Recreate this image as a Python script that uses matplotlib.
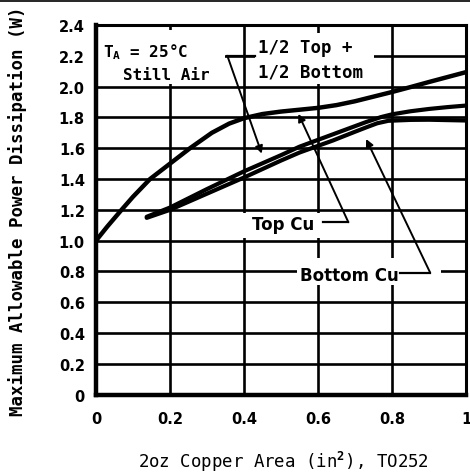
import matplotlib
matplotlib.use("Agg")
import matplotlib.pyplot as plt
from matplotlib.lines import Line2D
from matplotlib.patches import Rectangle

# --- curve data (x = copper area in^2, y = power in W) ---
half_x = [0, 0.03, 0.069, 0.1, 0.146, 0.2, 0.254, 0.313, 0.36, 0.4, 0.45,
          0.5, 0.55, 0.6, 0.65, 0.7, 0.75, 0.8, 0.85, 0.9, 0.95, 1.0]
half_y = [1.0, 1.09, 1.2, 1.285, 1.4, 1.5, 1.6, 1.7, 1.76, 1.795, 1.822,
          1.838, 1.85, 1.862, 1.88, 1.905, 1.935, 1.965, 1.997, 2.03,
          2.062, 2.094]

top_x = [0.137, 0.2, 0.3, 0.4, 0.5, 0.55, 0.64, 0.73, 0.77, 0.8, 0.85, 0.9,
         0.95, 1.0]
top_y = [1.155, 1.215, 1.335, 1.45, 1.555, 1.61, 1.69, 1.77, 1.802, 1.82,
         1.84, 1.855, 1.867, 1.877]

bot_x = [0.137, 0.2, 0.3, 0.4, 0.5, 0.55, 0.64, 0.7, 0.73, 0.76, 0.79, 0.85,
         0.9, 1.0]
bot_y = [1.148, 1.2, 1.305, 1.41, 1.52, 1.572, 1.65, 1.707, 1.735, 1.762,
         1.778, 1.784, 1.785, 1.78]

xticks = [0, 0.2, 0.4, 0.6, 0.8, 1.0]
xtick_labels = ["0", "0.2", "0.4", "0.6", "0.8", "1"]
yticks = [0, 0.2, 0.4, 0.6, 0.8, 1.0, 1.2, 1.4, 1.6, 1.8, 2.0, 2.2, 2.4]
ytick_labels = ["0", "0.2", "0.4", "0.6", "0.8", "1.0", "1.2", "1.4",
                "1.6", "1.8", "2.0", "2.2", "2.4"]

plt.rcParams["mathtext.fontset"] = "custom"
plt.rcParams["mathtext.rm"] = "DejaVu Sans Mono:bold"

fig = plt.figure(figsize=(4.7, 4.77), dpi=100)
ax = fig.add_axes([96 / 470, 1 - 395.7 / 477, 370 / 470, 369.7 / 477])

ax.set_xlim(0, 1.0)
ax.set_ylim(0, 2.4)
ax.set_xticks(xticks)
ax.set_xticklabels(xtick_labels)
ax.set_yticks(yticks)
ax.set_yticklabels(ytick_labels)
ax.tick_params(length=0, labelsize=10.5)
ax.tick_params(axis="y", pad=8)
ax.tick_params(axis="x", pad=12)
for lab in ax.get_xticklabels() + ax.get_yticklabels():
    lab.set_fontweight("bold")

ax.grid(True, color="black", linewidth=1.9, zorder=1)
ax.set_axisbelow(True)
for side in ["left", "bottom"]:
    ax.spines[side].set_linewidth(3.2)
for side in ["top", "right"]:
    ax.spines[side].set_linewidth(2.2)

# white masks behind the labels (hide grid there)
masks = [(0.005, 2.02, 0.344, 0.35), (0.43, 2.02, 0.32, 0.33),
         (0.389, 1.02, 0.305, 0.16), (0.543, 0.71, 0.39, 0.18)]
for mx, my, mw, mh in masks:
    ax.add_patch(Rectangle((mx, my), mw, mh, facecolor="white",
                           edgecolor="none", zorder=2))

ax.plot(half_x, half_y, color="black", lw=3.2, zorder=4,
        solid_capstyle="round", solid_joinstyle="round")
ax.plot(top_x, top_y, color="black", lw=3.0, zorder=4,
        solid_capstyle="round", solid_joinstyle="round")
ax.plot(bot_x, bot_y, color="black", lw=3.0, zorder=4,
        solid_capstyle="round", solid_joinstyle="round")

mono = "DejaVu Sans Mono"
ax.text(0.019, 2.2, r"$\mathrm{T_A}$ = 25°C", family=mono, weight="bold",
        fontsize=11.5, va="baseline", zorder=5)
ax.text(0.073, 2.05, "Still Air", family=mono, weight="bold",
        fontsize=11.5, va="baseline", zorder=5)
ax.text(0.438, 2.225, "1/2 Top +", family=mono, weight="bold",
        fontsize=12.5, va="baseline", zorder=5)
ax.text(0.438, 2.063, "1/2 Bottom", family=mono, weight="bold",
        fontsize=12.5, va="baseline", zorder=5)
ax.text(0.421, 1.076, "Top Cu", weight="bold", fontsize=12,
        va="baseline", zorder=5)
ax.text(0.551, 0.747, "Bottom Cu", weight="bold", fontsize=12,
        va="baseline", zorder=5)

# leader lines with arrows
leaders = [((0.43, 2.2), (0.355, 2.2), (0.448, 1.565)),
           ((0.614, 1.12), (0.682, 1.12), (0.547, 1.823)),
           ((0.822, 0.793), (0.903, 0.793), (0.73, 1.66))]
for start, corner, tip in leaders:
    ax.plot([start[0], corner[0]], [start[1], corner[1]], color="black",
            lw=1.6, zorder=5)
    ax.annotate("", xy=tip, xytext=corner,
                arrowprops=dict(arrowstyle="-|>", color="black", lw=1.4,
                                mutation_scale=11, shrinkA=0, shrinkB=0),
                zorder=5)

fig.text(18 / 470, 1 - 211 / 477, "Maximum Allowable Power Dissipation (W)",
         family=mono, weight="bold", fontsize=12.5, rotation=90,
         ha="center", va="center")
fig.text(283 / 470, 1 - 462 / 477, "2oz Copper Area (in$^2$), TO252",
         family=mono, fontsize=12.5, ha="center", va="center")

fig.add_artist(Line2D([0, 1], [1 - 1.5 / 477, 1 - 1.5 / 477], color="black",
                      lw=1.2))

fig.savefig("out.png", dpi=100)
